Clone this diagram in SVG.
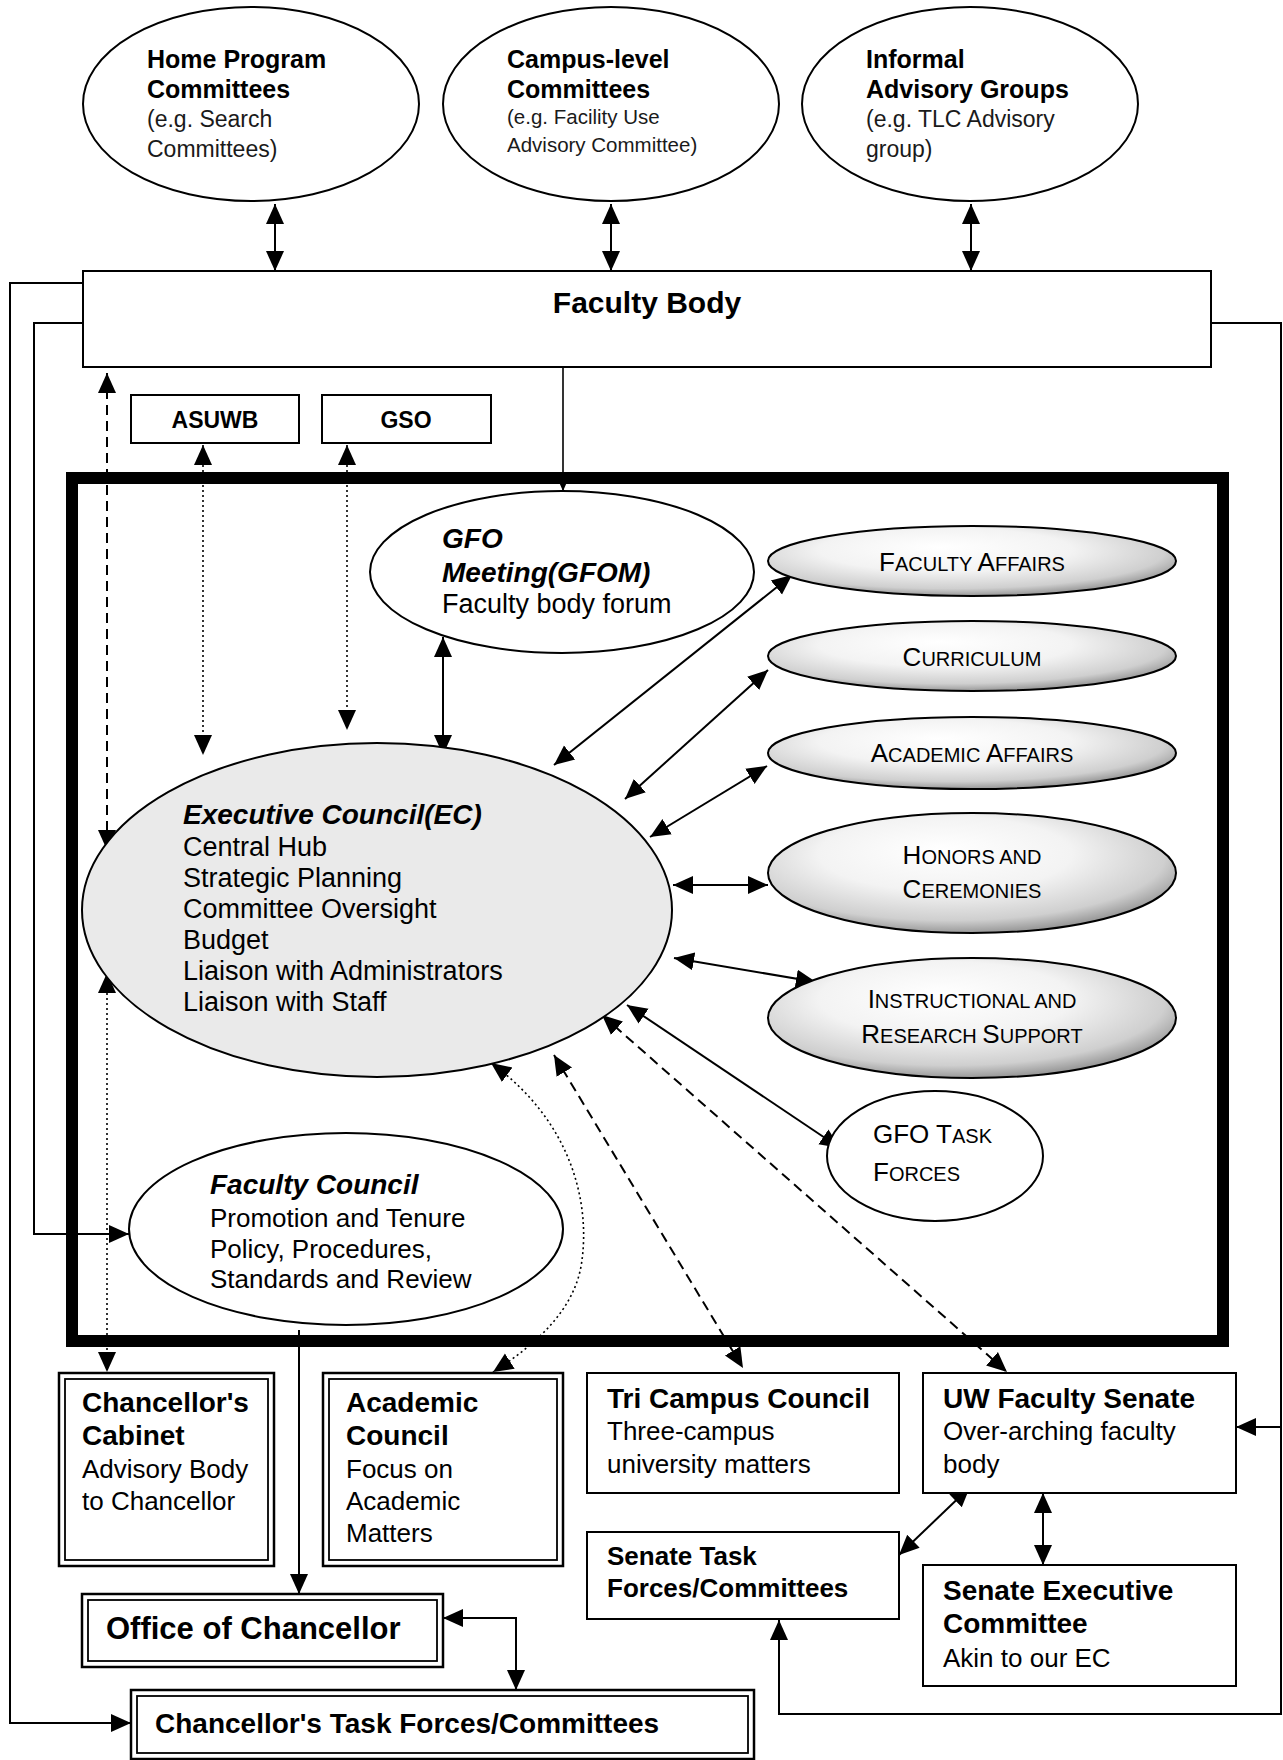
<svg xmlns="http://www.w3.org/2000/svg" width="1283" height="1760" viewBox="0 0 1283 1760">
<style>
text{font-family:"Liberation Sans",Arial,sans-serif;fill:#000}
.tb{font-weight:bold;font-size:25px}
.ts{font-size:23px;fill:#1a1a1a}
.bi{font-weight:bold;font-style:italic;font-size:28px}
.rg{font-size:27px}
.fc{font-size:26px}
.bb{font-weight:bold;font-size:28px}
.br{font-size:26px}
.sc{font-size:20px}
.big{font-size:26px}
.node{fill:#fff;stroke:#000;stroke-width:2}
.com{fill:url(#cg);stroke:#000;stroke-width:2}
.ln{fill:none;stroke:#000;stroke-width:2}
.dash{stroke-dasharray:10 6}
.dot{stroke-dasharray:2 3;stroke-width:1.6}
.both{marker-start:url(#ah);marker-end:url(#ah)}
.end{marker-end:url(#ah)}
</style>
<defs>
<marker id="ah" markerUnits="userSpaceOnUse" markerWidth="20" markerHeight="20" viewBox="0 0 20 20" refX="20" refY="10" orient="auto-start-reverse"><path d="M0,1 L20,10 L0,19 z" fill="#000" stroke="none"/></marker>
<marker id="sm" markerUnits="userSpaceOnUse" markerWidth="10" markerHeight="10" viewBox="0 0 10 10" refX="10" refY="5" orient="auto"><path d="M0,0.5 L10,5 L0,9.5 z" fill="#000" stroke="none"/></marker>
<radialGradient id="cg" cx="0.45" cy="0.38" r="0.62" fx="0.42" fy="0.3">
<stop offset="0" stop-color="#ffffff"/>
<stop offset="0.5" stop-color="#f3f3f3"/>
<stop offset="0.85" stop-color="#cfcfcf"/>
<stop offset="1" stop-color="#999999"/>
</radialGradient>
</defs>
<rect width="1283" height="1760" fill="#fff"/>

<g id="connectors">
<path class="ln both" d="M275,204 V271"/>
<path class="ln both" d="M611,204 V271"/>
<path class="ln both" d="M971,204 V271"/>
<path class="ln end" d="M83,283 H10 V1723 H131"/>
<path class="ln end" d="M83,323 H34 V1234 H129"/>
<path class="ln end" d="M1211,323 H1281 V1714 H779 V1620"/>
<path class="ln end" d="M1281,1427 H1236"/>
<path class="ln" style="stroke-width:1.6" marker-end="url(#sm)" d="M563,367 V491"/>
<path class="ln dot both" d="M203,445 V755"/>
<path class="ln dot both" d="M347,445 V730"/>
<path class="ln dash both" d="M107,373 V850"/>
<path class="ln dot both" d="M107,973 V1372"/>
<path class="ln both" d="M443,637 V755"/>
<path class="ln both" d="M554,765 L792,575"/>
<path class="ln both" d="M625,799 L768,670"/>
<path class="ln both" d="M650,837 L767,766"/>
<path class="ln both" d="M673,885 H768"/>
<path class="ln both" d="M674,958 L816,982"/>
<path class="ln both" d="M627,1005 L840,1148"/>
<path class="ln dash both" d="M602,1015 L1007,1372"/>
<path class="ln dash both" d="M554,1055 L743,1368"/>
<path class="ln dot both" d="M491,1063 C570,1120 590,1200 582,1260 C576,1310 535,1345 493,1372"/>
<path class="ln end" d="M299,1330 V1594"/>
<path class="ln both" d="M443,1618 H516 V1690"/>
<path class="ln both" d="M970,1487 L899,1555"/>
<path class="ln both" d="M1043,1493 V1565"/>
</g>

<g id="frame"><rect x="72" y="478" width="1151" height="863" fill="none" stroke="#000" stroke-width="12"/></g>

<g id="home-program">
<ellipse class="node" cx="251" cy="104" rx="168" ry="97"/>
<text class="tb" x="147" y="68">Home Program</text>
<text class="tb" x="147" y="98">Committees</text>
<text class="ts" x="147" y="127">(e.g. Search</text>
<text class="ts" x="147" y="157">Committees)</text>
</g>
<g id="campus-level">
<ellipse class="node" cx="611" cy="104" rx="168" ry="97"/>
<text class="tb" x="507" y="68">Campus-level</text>
<text class="tb" x="507" y="98">Committees</text>
<text x="507" y="124" style="font-size:20.5px;fill:#1a1a1a">(e.g. Facility Use</text>
<text x="507" y="152" style="font-size:20.5px;fill:#1a1a1a">Advisory Committee)</text>
</g>
<g id="informal">
<ellipse class="node" cx="970" cy="104" rx="168" ry="97"/>
<text class="tb" x="866" y="68">Informal</text>
<text class="tb" x="866" y="98">Advisory Groups</text>
<text class="ts" x="866" y="127">(e.g. TLC Advisory</text>
<text class="ts" x="866" y="157">group)</text>
</g>

<g id="faculty-body">
<rect class="node" x="83" y="271" width="1128" height="96"/>
<text x="647" y="313" text-anchor="middle" style="font-weight:bold;font-size:30px">Faculty Body</text>
</g>
<g id="asuwb">
<rect class="node" x="131" y="395" width="168" height="48"/>
<text x="215" y="428" text-anchor="middle" style="font-weight:bold;font-size:23px">ASUWB</text>
</g>
<g id="gso">
<rect class="node" x="322" y="395" width="169" height="48"/>
<text x="406" y="428" text-anchor="middle" style="font-weight:bold;font-size:23px">GSO</text>
</g>

<g id="gfom">
<ellipse class="node" cx="562" cy="572" rx="192" ry="81"/>
<text class="bi" x="442" y="548">GFO</text>
<text class="bi" x="442" y="582">Meeting(GFOM)</text>
<text class="rg" x="442" y="613">Faculty body forum</text>
</g>

<g id="ec">
<ellipse cx="377" cy="910" rx="295" ry="167" fill="#eaeaea" stroke="#000" stroke-width="2"/>
<text class="bi" x="183" y="824">Executive Council(EC)</text>
<text class="rg" x="183" y="856">Central Hub</text>
<text class="rg" x="183" y="887">Strategic Planning</text>
<text class="rg" x="183" y="918">Committee Oversight</text>
<text class="rg" x="183" y="949">Budget</text>
<text class="rg" x="183" y="980">Liaison with Administrators</text>
<text class="rg" x="183" y="1011">Liaison with Staff</text>
</g>

<g id="faculty-affairs">
<ellipse class="com" cx="972" cy="561" rx="204" ry="35"/>
<text class="sc" x="972" y="571" text-anchor="middle"><tspan class="big">F</tspan>ACULTY <tspan class="big">A</tspan>FFAIRS</text>
</g>
<g id="curriculum">
<ellipse class="com" cx="972" cy="656" rx="204" ry="35"/>
<text class="sc" x="972" y="666" text-anchor="middle"><tspan class="big">C</tspan>URRICULUM</text>
</g>
<g id="academic-affairs">
<ellipse class="com" cx="972" cy="753" rx="204" ry="36"/>
<text class="sc" x="972" y="762" text-anchor="middle"><tspan class="big">A</tspan>CADEMIC <tspan class="big">A</tspan>FFAIRS</text>
</g>
<g id="honors">
<ellipse class="com" cx="972" cy="873" rx="204" ry="60"/>
<text class="sc" x="972" y="864" text-anchor="middle"><tspan class="big">H</tspan>ONORS AND</text>
<text class="sc" x="972" y="898" text-anchor="middle"><tspan class="big">C</tspan>EREMONIES</text>
</g>
<g id="instructional">
<ellipse class="com" cx="972" cy="1018" rx="204" ry="60"/>
<text class="sc" x="972" y="1008" text-anchor="middle"><tspan class="big">I</tspan>NSTRUCTIONAL AND</text>
<text class="sc" x="972" y="1043" text-anchor="middle"><tspan class="big">R</tspan>ESEARCH <tspan class="big">S</tspan>UPPORT</text>
</g>
<g id="gfo-task-forces">
<ellipse class="node" cx="935" cy="1156" rx="108" ry="65"/>
<text class="sc" x="873" y="1143"><tspan class="big">GFO T</tspan>ASK</text>
<text class="sc" x="873" y="1181"><tspan class="big">F</tspan>ORCES</text>
</g>

<g id="faculty-council">
<ellipse class="node" cx="346" cy="1229" rx="217" ry="96"/>
<text class="bi" x="210" y="1194">Faculty Council</text>
<text class="fc" x="210" y="1227">Promotion and Tenure</text>
<text class="fc" x="210" y="1258">Policy, Procedures,</text>
<text class="fc" x="210" y="1288">Standards and Review</text>
</g>

<g id="chancellors-cabinet">
<rect x="59" y="1373" width="215" height="193" fill="#fff" stroke="#000" stroke-width="2.5"/>
<rect x="65" y="1379" width="203" height="181" fill="none" stroke="#000" stroke-width="1.8"/>
<text class="bb" x="82" y="1412">Chancellor's</text>
<text class="bb" x="82" y="1445">Cabinet</text>
<text class="br" x="82" y="1478">Advisory Body</text>
<text class="br" x="82" y="1510">to Chancellor</text>
</g>
<g id="academic-council">
<rect x="323" y="1373" width="240" height="193" fill="#fff" stroke="#000" stroke-width="2.5"/>
<rect x="329" y="1379" width="228" height="181" fill="none" stroke="#000" stroke-width="1.8"/>
<text class="bb" x="346" y="1412">Academic</text>
<text class="bb" x="346" y="1445">Council</text>
<text class="br" x="346" y="1478">Focus on</text>
<text class="br" x="346" y="1510">Academic</text>
<text class="br" x="346" y="1542">Matters</text>
</g>
<g id="tri-campus">
<rect class="node" x="587" y="1373" width="312" height="120"/>
<text class="bb" x="607" y="1408">Tri Campus Council</text>
<text class="br" x="607" y="1440">Three-campus</text>
<text class="br" x="607" y="1473">university matters</text>
</g>
<g id="uw-senate">
<rect class="node" x="923" y="1373" width="313" height="120"/>
<text class="bb" x="943" y="1408">UW Faculty Senate</text>
<text class="br" x="943" y="1440">Over-arching faculty</text>
<text class="br" x="943" y="1473">body</text>
</g>
<g id="senate-task-forces">
<rect class="node" x="587" y="1532" width="312" height="87"/>
<text class="bb" x="607" y="1565" style="font-size:26px">Senate Task</text>
<text class="bb" x="607" y="1597" style="font-size:26px">Forces/Committees</text>
</g>
<g id="senate-executive">
<rect class="node" x="923" y="1565" width="313" height="121"/>
<text class="bb" x="943" y="1600">Senate Executive</text>
<text class="bb" x="943" y="1633">Committee</text>
<text class="br" x="943" y="1667">Akin to our EC</text>
</g>
<g id="office-of-chancellor">
<rect x="82" y="1594" width="361" height="73" fill="#fff" stroke="#000" stroke-width="2.5"/>
<rect x="88" y="1600" width="349" height="61" fill="none" stroke="#000" stroke-width="1.8"/>
<text x="106" y="1639" style="font-weight:bold;font-size:31px">Office of Chancellor</text>
</g>
<g id="chancellors-task-forces">
<rect x="131" y="1690" width="623" height="69" fill="#fff" stroke="#000" stroke-width="2.5"/>
<rect x="137" y="1696" width="611" height="57" fill="none" stroke="#000" stroke-width="1.8"/>
<text class="bb" x="155" y="1733">Chancellor's Task Forces/Committees</text>
</g>
</svg>
